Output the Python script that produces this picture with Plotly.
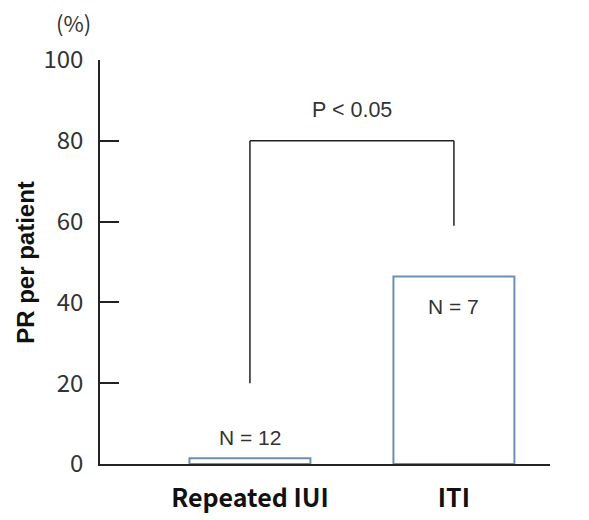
import plotly.graph_objects as go

# Pregnancy rate per patient by treatment group
groups = ["Repeated IUI", "ITI"]
pr_values = [1.4, 46.4]
n_labels = ["N = 12", "N = 7"]
y_ticks = [0, 20, 40, 60, 80, 100]

# Significance bracket: left leg bottom, bar height, right leg bottom (in %)
bracket_left_low = 20
bracket_top = 80
bracket_right_low = 59
p_text = "P < 0.05"

cjk_font = "Noto Sans CJK JP, Noto Sans, sans-serif"
sans_font = "Liberation Sans, Arial, sans-serif"
text_color = "#333333"
bar_edge = "#6f8fb2"

fig = go.Figure()
fig.add_trace(go.Bar(
    x=[0, 1],
    y=pr_values,
    width=0.593,
    marker=dict(color="white", line=dict(color=bar_edge, width=2)),
    hoverinfo="skip",
))

# N labels: above the first bar, inside the second
fig.add_annotation(x=0, y=pr_values[0], text=n_labels[0], showarrow=False,
                   yanchor="bottom", yshift=7,
                   font=dict(family=sans_font, size=21, color=text_color))
fig.add_annotation(x=1, y=pr_values[1], text=n_labels[1], showarrow=False,
                   yanchor="top", yshift=-16,
                   font=dict(family=sans_font, size=21, color=text_color))

# Bracket
line_style = dict(color="#222222", width=1.5)
fig.add_shape(type="line", x0=0, x1=0, y0=bracket_left_low, y1=bracket_top, line=line_style)
fig.add_shape(type="line", x0=0, x1=1, y0=bracket_top, y1=bracket_top, line=line_style)
fig.add_shape(type="line", x0=1, x1=1, y0=bracket_top, y1=bracket_right_low, line=line_style)
fig.add_annotation(x=0.5, y=bracket_top, text=p_text, showarrow=False,
                   yanchor="bottom", yshift=17,
                   font=dict(family=sans_font, size=21.5, color=text_color))

# Unit label and axis title
fig.add_annotation(xref="paper", yref="paper", x=-0.06, y=1.0, text="(%)",
                   showarrow=False, xanchor="center", yanchor="bottom", yshift=20,
                   font=dict(family=cjk_font, size=22, color=text_color))
fig.add_annotation(xref="paper", yref="paper", x=-0.167, y=0.5, text="<b>PR per patient</b>",
                   showarrow=False, textangle=-90, xanchor="center", yanchor="middle",
                   font=dict(family=sans_font, size=24, color="#111111"))

fig.update_layout(
    width=589, height=520,
    margin=dict(l=100, r=39, t=60, b=56, autoexpand=False),
    paper_bgcolor="white", plot_bgcolor="white",
    font=dict(family=cjk_font, color=text_color),
    showlegend=False,
    xaxis=dict(
        range=[-0.735, 1.471],
        tickmode="array", tickvals=[0, 1],
        ticktext=["<b>" + g + "</b>" for g in groups],
        tickfont=dict(family=cjk_font, size=25, color="#111111"),
        ticks="", showline=True, linecolor="#222222", linewidth=1.5,
        showgrid=False, zeroline=False, ticklabelstandoff=11,
        automargin=False,
    ),
    yaxis=dict(
        range=[0, 100],
        tickmode="array", tickvals=y_ticks,
        ticks="inside", ticklen=19, tickwidth=1.5, tickcolor="#222222",
        tickfont=dict(family=cjk_font, size=24, color=text_color),
        showline=True, linecolor="#222222", linewidth=1.5,
        showgrid=False, zeroline=False, ticklabelstandoff=10,
        automargin=False,
    ),
)

fig.write_html("out.html")
